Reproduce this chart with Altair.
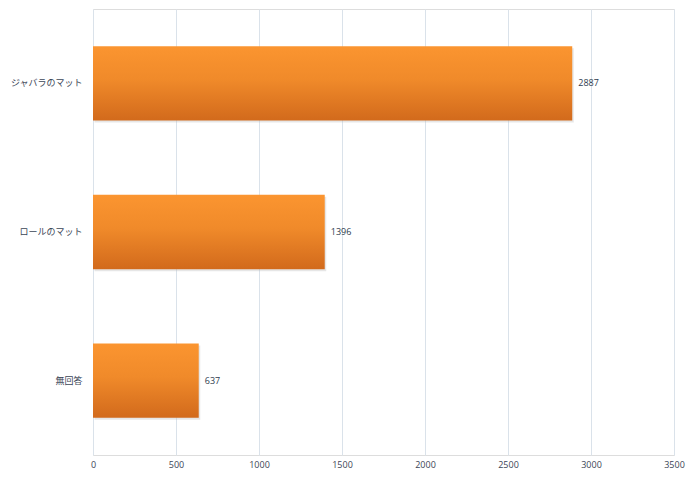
import altair as alt
import pandas as pd

categories = ["ジャバラのマット", "ロールのマット", "無回答"]
values = [2887, 1396, 637]
x_ticks = [0, 500, 1000, 1500, 2000, 2500, 3000, 3500]

df = pd.DataFrame({"category": categories, "value": values})

font = "Noto Sans CJK JP"

y_enc = alt.Y("category:N", sort=categories, title=None,
              scale=alt.Scale(paddingInner=0.5, paddingOuter=0.25),
              axis=alt.Axis(domain=False, ticks=False, labelFont=font, labelFontSize=9,
                            labelColor="#3b4656", labelPadding=11, grid=False))
x_enc = alt.X("value:Q", title=None,
              scale=alt.Scale(domain=[0, 3500], nice=False),
              axis=alt.Axis(values=x_ticks, format="d", domain=False, ticks=False, grid=True,
                            gridColor="#dae2ea", gridWidth=1, labelFont="Open Sans",
                            labelFontSize=9, labelColor="#3b4656", labelPadding=5,
                            labelFlush=False, labelBaseline="top"))

shadow = alt.Chart(df).mark_bar(color="#b8b8b8", opacity=0.35, xOffset=1.5, yOffset=2).encode(
    y=y_enc, x=x_enc)

bars = alt.Chart(df).mark_bar(
    color=alt.Gradient(
        gradient="linear",
        stops=[alt.GradientStop(color="#fb9530", offset=0),
               alt.GradientStop(color="#f08a2a", offset=0.45),
               alt.GradientStop(color="#d26a1c", offset=1)],
        x1=0, x2=0, y1=0, y2=1)
).encode(y=y_enc, x=x_enc)

labels = alt.Chart(df).mark_text(align="left", dx=6, font="Open Sans", fontSize=9,
                                 color="#2e3b4e").encode(
    y=alt.Y("category:N", sort=categories),
    x="value:Q", text="value:Q")

chart = alt.layer(shadow, bars, labels).properties(
    width=581, height=446,
    autosize=alt.AutoSizeParams(type="none"),
    padding={"left": 85, "top": 1, "right": 13, "bottom": 16}
).configure_view(stroke=None).configure(background="white")

chart.save("out.html", embed_options={"renderer": "svg", "actions": False})
